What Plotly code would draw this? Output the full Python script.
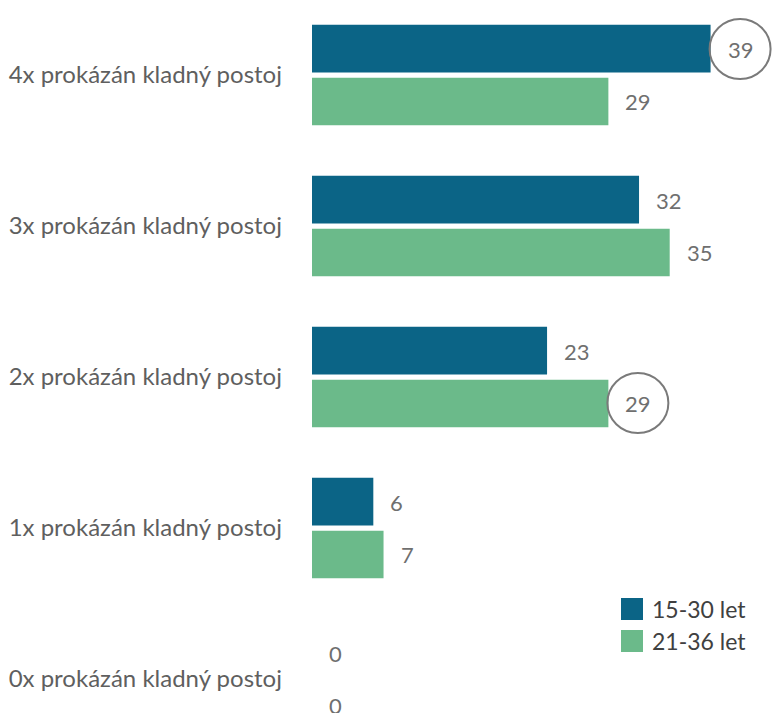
import plotly.graph_objects as go

categories = ["4x prokázán kladný postoj", "3x prokázán kladný postoj",
              "2x prokázán kladný postoj", "1x prokázán kladný postoj",
              "0x prokázán kladný postoj"]
series_names = ["15-30 let", "21-36 let"]
values_a = [39, 32, 23, 6, 0]
values_b = [29, 35, 29, 7, 0]
highlights = [(0, "4x prokázán kladný postoj"), (1, "2x prokázán kladný postoj")]

colors = ["#0b6486", "#6bba8a"]
FONT = "Lato"
series_values = [values_a, values_b]

fig = go.Figure()
for name, vals, col in zip(series_names, series_values, colors):
    fig.add_trace(go.Bar(y=categories, x=vals, orientation="h", name=name,
                         marker=dict(color=col, line=dict(width=0)),
                         showlegend=False, hoverinfo="skip"))

# value labels
shifts = [26, -26]
for si, vals in enumerate(series_values):
    for cat, v in zip(categories, vals):
        fig.add_annotation(x=v, y=cat, xref="x", yref="y", text=str(v),
                           showarrow=False, xanchor="left", yanchor="middle",
                           xshift=15, yshift=shifts[si],
                           font=dict(family=FONT, size=22, color="#6f6f6f"))

# highlight circles
for si, cat in highlights:
    v = series_values[si][categories.index(cat)]
    fig.add_shape(type="circle", xref="x", yref="y", xsizemode="pixel",
                  ysizemode="pixel", xanchor=v, yanchor=cat,
                  x0=-1, x1=60, y0=shifts[si] - 30, y1=shifts[si] + 30,
                  line=dict(color="#7a7a7a", width=2), fillcolor="rgba(0,0,0,0)")

# manual legend
leg_y = [609, 641]
for name, col, yy in zip(series_names, colors, leg_y):
    fig.add_shape(type="rect", xref="paper", yref="paper",
                  x0=(621 - 312) / 461, x1=(643 - 312) / 461,
                  y0=1 - (yy + 11) / 713, y1=1 - (yy - 11) / 713,
                  fillcolor=col, line=dict(width=0))
    fig.add_annotation(xref="paper", yref="paper", x=(650 - 312) / 461,
                       y=1 - yy / 713, text=name, showarrow=False,
                       xanchor="left", yanchor="middle",
                       font=dict(family=FONT, size=23, color="#404040"))

fig.update_layout(
    width=773, height=713,
    margin=dict(l=312, r=0, t=0, b=0),
    paper_bgcolor="white", plot_bgcolor="white",
    barmode="group", bargap=0.3, bargroupgap=0.1,
    xaxis=dict(range=[0, 461 / 10.22], visible=False, fixedrange=True),
    yaxis=dict(type="category", categoryarray=categories,
               range=[4.225, -0.497], showgrid=False, zeroline=False,
               showline=False, ticks="", ticklabelstandoff=29, fixedrange=True,
               tickfont=dict(family=FONT, size=24, color="#5f5f5f")),
    showlegend=False,
)
fig.write_html("out.html", config={"displayModeBar": False},
               post_script="document.body.style.margin='0';document.body.style.overflow='hidden';")
